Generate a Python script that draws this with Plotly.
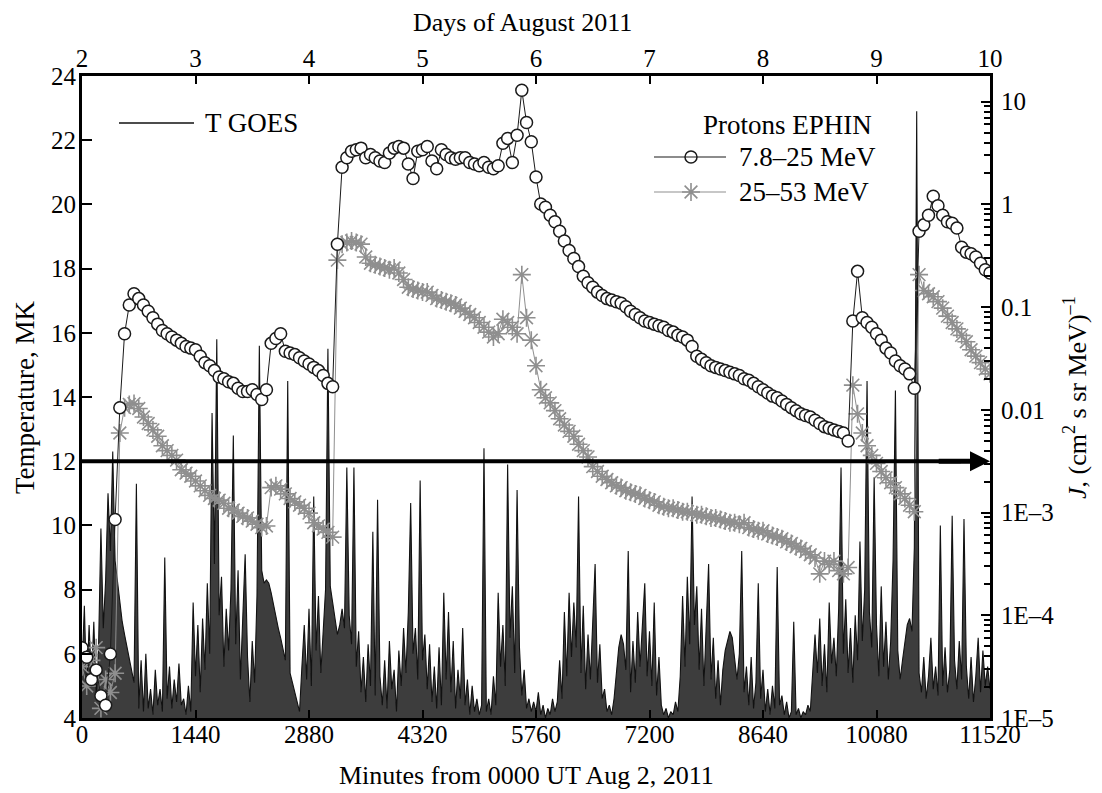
import plotly.graph_objects as go

# ---------------- data ----------------
# GOES temperature, MK, one value every 30 minutes from 0 to 11520 min
goes_step_min = 30
t_goes = [
    5.5, 7.5, 4.8, 6.9, 5.2, 7.0, 4.6, 6.2, 9.9, 6.8,
    8.3, 11.0, 9.2, 12.3, 8.9, 8.3, 7.7, 7.0, 6.6, 6.2,
    5.8, 5.5, 5.1, 11.3, 4.3, 5.8, 4.2, 6.0, 4.3, 4.9,
    4.1, 5.5, 4.4, 4.9, 4.2, 9.0, 4.6, 5.6, 4.3, 5.2,
    4.5, 5.7, 4.4, 4.6, 4.1, 5.0, 4.2, 7.6,
    5.3, 6.9, 4.8, 7.1, 5.5, 8.2, 6.0, 13.5, 8.8, 15.8,
    7.2, 8.4, 5.6, 7.4, 6.1, 8.0, 12.8, 6.3, 8.6, 5.2,
    6.9, 9.1, 5.9, 4.5, 6.4, 5.1, 7.8, 15.6, 8.6, 8.2,
    8.3, 8.2, 7.9, 7.5, 7.1, 6.8, 6.5, 6.1, 5.8, 14.5,
    5.4, 5.1, 4.8, 4.5, 4.2, 5.6, 6.9, 5.2,
    7.4, 5.0, 10.9, 6.1, 7.8, 5.4, 6.7, 8.0, 15.5, 8.1,
    7.6, 7.1, 6.6, 6.9, 7.4, 6.8, 11.8, 7.2, 6.3, 11.8,
    5.6, 6.7, 4.8, 5.9, 4.5, 6.3, 5.0, 9.8, 4.7, 10.8,
    5.3, 4.4, 5.8, 4.3, 6.4, 4.9, 5.5, 4.2, 6.1, 5.0,
    6.8, 5.4, 7.3, 10.7, 6.0, 6.8, 5.2, 11.4,
    5.8, 6.6, 4.9, 6.3, 4.5, 5.6, 4.3, 6.2, 4.4, 7.9,
    5.2, 7.3, 4.8, 6.4, 4.3, 5.5, 4.6, 6.8, 4.4, 5.2,
    4.1, 5.0, 4.2, 4.6, 4.1, 4.4, 12.4, 4.2, 4.6, 4.1,
    5.3, 4.4, 7.9, 5.6, 6.9, 5.0, 11.9, 6.5, 8.1, 5.4,
    11.1, 6.2, 4.7, 5.5, 4.3, 4.6, 4.2, 4.5,
    4.2, 4.8, 4.1, 4.4, 4.0, 4.3, 4.1, 4.6, 4.2, 4.5,
    5.8, 4.6, 7.3, 5.3, 7.9, 5.9, 7.6, 6.2, 10.9, 5.4,
    7.5, 4.9, 6.6, 5.2, 7.2, 8.8, 5.1, 6.3, 4.6, 4.9,
    4.2, 4.4, 4.1, 4.6, 5.4, 6.2, 6.6, 6.3, 5.5, 9.2,
    4.8, 6.4, 5.1, 7.3, 5.6, 6.8, 8.2, 5.3,
    6.7, 5.0, 7.6, 4.7, 5.9, 4.4, 4.1, 4.3, 4.0, 4.2,
    4.1, 4.5, 4.2, 5.3, 7.8, 5.6, 8.4, 6.3, 10.9, 6.9,
    8.1, 5.5, 7.4, 5.0, 6.9, 8.8, 5.2, 6.5, 4.6, 5.8,
    4.4, 5.5, 6.1, 6.4, 6.7, 6.5, 5.9, 5.2, 6.0, 9.2,
    4.8, 5.6, 4.4, 5.9, 4.3, 5.1, 8.2, 4.6,
    5.5, 4.2, 4.9, 4.1, 5.0, 4.3, 8.7, 4.4, 4.7, 4.1,
    4.5, 4.0, 4.2, 7.0, 4.1, 4.3, 4.0, 4.2, 4.1, 4.4,
    4.2, 5.6, 6.6, 5.4, 7.1, 5.0, 6.3, 4.8, 7.6, 5.7,
    6.5, 5.3, 7.4, 11.8, 6.0, 7.7, 5.4, 6.8, 5.1, 7.2,
    5.8, 9.5, 6.4, 8.0, 14.5, 7.3, 6.2, 11.5,
    6.9, 5.3, 8.1, 5.6, 7.0, 5.2, 6.4, 8.9, 14.2, 6.1,
    5.2, 5.8, 6.4, 6.9, 7.1, 6.7, 9.3, 22.9, 5.4, 4.8,
    5.9, 4.6, 5.3, 6.5, 4.9, 5.6, 4.7, 10.0, 5.0, 6.2,
    4.8, 5.5, 10.3, 5.8, 4.9, 6.4, 5.2, 10.2, 5.6, 4.6,
    5.9, 4.5, 5.3, 6.5, 4.8, 6.1, 5.0, 5.6,
    4.9,
]

# EPHIN proton fluxes, (cm^2 s sr MeV)^-1, hourly from 0 to 11520 min
ephin_step_min = 60
flux_7_25 = [
    4.84e-5, 3.91e-5, 2.37e-5, 2.94e-5, 1.65e-5, 1.33e-5, 4.2e-5, 8.55e-4, 0.0105, 0.0551,
    0.105, 0.135, 0.121, 0.105, 0.091, 0.0789, 0.0683, 0.0592, 0.0551, 0.0512,
    0.0477, 0.0444, 0.0413, 0.0399, 0.0385, 0.0333, 0.0288, 0.0269, 0.0241, 0.0209,
    0.0201, 0.0188, 0.0181, 0.0162, 0.0151, 0.0151, 0.0157, 0.0141, 0.0126, 0.0157,
    0.0444, 0.0494, 0.0551, 0.0371, 0.0358, 0.0345, 0.0321, 0.0299, 0.0279, 0.0259,
    0.0241, 0.0216, 0.0181, 0.0168, 0.41, 2.30, 2.85, 3.29, 3.41, 3.53,
    2.85, 3.06, 2.85, 2.65, 2.56, 3.17, 3.53, 3.66, 3.53, 2.47,
    1.79, 3.29, 3.41, 3.66, 2.65, 2.22, 3.41, 3.06, 2.85, 2.75,
    2.85, 2.85, 2.56, 2.47, 2.38, 2.56, 2.30, 2.22, 2.38, 3.94,
    4.39, 2.56, 4.71, 12.9, 6.28, 4.08, 1.85, 1.01, 0.938, 0.783,
    0.679, 0.547, 0.441, 0.356, 0.297, 0.248, 0.200, 0.173, 0.156, 0.140,
    0.130, 0.121, 0.117, 0.113, 0.109, 0.101, 0.091, 0.0847, 0.0789, 0.0734,
    0.0708, 0.0683, 0.0659, 0.0636, 0.0592, 0.0571, 0.0531, 0.0512, 0.0477, 0.0413,
    0.0333, 0.0310, 0.0288, 0.0269, 0.0259, 0.0250, 0.0241, 0.0232, 0.0224, 0.0216,
    0.0201, 0.0194, 0.0181, 0.0168, 0.0157, 0.0146, 0.0136, 0.0131, 0.0122, 0.0113,
    0.0105, 0.00982, 0.00914, 0.00882, 0.00851, 0.00792, 0.00737, 0.00686, 0.00662, 0.00638,
    0.00617, 0.00595, 0.00497, 0.0734, 0.223, 0.0789, 0.0708, 0.0636, 0.0551, 0.0477,
    0.0399, 0.0358, 0.0299, 0.0269, 0.0250, 0.0224, 0.0162, 0.547, 0.632, 0.783,
    1.20, 0.970, 0.783, 0.679, 0.655, 0.588, 0.382, 0.343, 0.331, 0.308,
    0.267, 0.231, 0.215,
]
flux_25_53 = [
    3.16e-5, 2.05e-5, 3.64e-5, 4.84e-5, 1.24e-5, 2.37e-5, 1.77e-5, 2.73e-5, 0.00595, 0.0105,
    0.0113, 0.0115, 0.0103, 0.00851, 0.00737, 0.00638, 0.00553, 0.00447, 0.00401, 0.0036,
    0.00324, 0.00261, 0.00242, 0.00226, 0.00203, 0.00182, 0.00163, 0.00147, 0.00137, 0.00132,
    0.00123, 0.0011, 0.00106, 0.000988, 0.000919, 0.000887, 0.000826, 0.000769, 0.000714, 0.000741,
    0.00175, 0.00182, 0.00169, 0.00152, 0.00137, 0.00127, 0.00118, 0.0011, 0.000988, 0.000796,
    0.000741, 0.00069, 0.000641, 0.000577, 0.287, 0.41, 0.426, 0.441, 0.426, 0.41,
    0.308, 0.267, 0.258, 0.248, 0.24, 0.231, 0.24, 0.215, 0.186, 0.156,
    0.150, 0.145, 0.140, 0.140, 0.130, 0.121, 0.117, 0.113, 0.109, 0.105,
    0.0977, 0.091, 0.0847, 0.0789, 0.0708, 0.0636, 0.0571, 0.0512, 0.0551, 0.0761,
    0.0708, 0.0636, 0.0551, 0.207, 0.0789, 0.0477, 0.0269, 0.0157, 0.0131, 0.0117,
    0.00982, 0.0082, 0.00711, 0.00617, 0.00553, 0.00463, 0.00401, 0.00348, 0.0028, 0.00251,
    0.00226, 0.0021, 0.00195, 0.00182, 0.00175, 0.00163, 0.00158, 0.00152, 0.00147, 0.00137,
    0.00132, 0.00127, 0.00118, 0.00114, 0.0011, 0.0011, 0.00106, 0.00102, 0.00102, 0.000988,
    0.000953, 0.000953, 0.000919, 0.000887, 0.000887, 0.000855, 0.000826, 0.000796, 0.000796, 0.000769,
    0.000796, 0.000714, 0.00069, 0.000665, 0.000665, 0.000619, 0.000597, 0.000577, 0.000556, 0.000518,
    0.000499, 0.000465, 0.000448, 0.000417, 0.000388, 0.000361, 0.000253, 0.000337, 0.000313, 0.000337,
    0.000272, 0.000253, 0.000292, 0.0174, 0.00914, 0.00595, 0.00447, 0.0036, 0.00301, 0.00251,
    0.00218, 0.00195, 0.00175, 0.00152, 0.00137, 0.00118, 0.00102, 0.207, 0.145, 0.135,
    0.126, 0.113, 0.0977, 0.0817, 0.0708, 0.0614, 0.0531, 0.046, 0.0385, 0.0333,
    0.0288, 0.025, 0.0224,
]

minute_ticks = [0, 1440, 2880, 4320, 5760, 7200, 8640, 10080, 11520]
day_ticks = [2, 3, 4, 5, 6, 7, 8, 9, 10]
temp_ticks = [4, 6, 8, 10, 12, 14, 16, 18, 20, 22, 24]
flux_tickvals = [10, 1, 0.1, 0.01, 1e-3, 1e-4, 1e-5]
flux_ticktext = ["10", "1", "0.1", "0.01", "1E–3", "1E–4", "1E–5"]
threshold_T = 12

goes_minutes = [i * goes_step_min for i in range(len(t_goes))]
ephin_minutes = [i * ephin_step_min for i in range(len(flux_7_25))]

# ---------------- styling ----------------
FONT = "Liberation Serif, Times New Roman, serif"
TICK = 25
TITLE = 26
GRAY = "#8f8f8f"
minor_vals = [m * 10 ** e for e in range(-5, 2) for m in range(2, 10)]

# The page body adds an 8 px offset, so the figure is 8 px smaller on each side.
FIG_W, FIG_H = 1094, 785
PLOT_L, PLOT_R, PLOT_T, PLOT_B = 82, 990, 76, 718      # wanted page pixels
OFF = 8

fig = go.Figure()

fig.add_trace(go.Scatter(
    x=goes_minutes, y=t_goes, mode="lines", xaxis="x", yaxis="y",
    line=dict(color="#111111", width=1.1), fill="tozeroy",
    fillcolor="rgba(18,18,18,0.82)", showlegend=False, hoverinfo="skip"))

fig.add_trace(go.Scatter(
    x=ephin_minutes, y=flux_25_53, mode="lines+markers", xaxis="x", yaxis="y2",
    line=dict(color=GRAY, width=1),
    marker=dict(symbol="asterisk-open", size=15, color=GRAY, line=dict(color=GRAY, width=1.6)),
    showlegend=False))

fig.add_trace(go.Scatter(
    x=ephin_minutes, y=flux_7_25, mode="lines+markers", xaxis="x", yaxis="y2",
    line=dict(color="#1a1a1a", width=1),
    marker=dict(symbol="circle", size=12, color="white", line=dict(color="#1a1a1a", width=1.5)),
    showlegend=False))

# helper trace so the top (days) axis is drawn
fig.add_trace(go.Scatter(x=[day_ticks[0], day_ticks[-1]], y=[4, 4], xaxis="x2", yaxis="y",
                         mode="lines", line=dict(width=0), opacity=0, showlegend=False,
                         hoverinfo="skip"))


def px_x(p):
    return (p - PLOT_L) / float(PLOT_R - PLOT_L)


def px_y(p):
    return (PLOT_B - p) / float(PLOT_B - PLOT_T)


# legend sample markers (positions as fractions of the plot area)
fig.add_trace(go.Scatter(
    x=[px_x(691)], y=[px_y(157)], xaxis="x3", yaxis="y3", mode="markers",
    marker=dict(symbol="circle", size=12, color="white", line=dict(color="#1a1a1a", width=1.5)),
    showlegend=False, hoverinfo="skip"))
fig.add_trace(go.Scatter(
    x=[px_x(691)], y=[px_y(192)], xaxis="x3", yaxis="y3", mode="markers",
    marker=dict(symbol="asterisk-open", size=15, color=GRAY, line=dict(color=GRAY, width=1.6)),
    showlegend=False, hoverinfo="skip"))

axis_common = dict(showline=True, linecolor="black", linewidth=3, showgrid=False,
                   zeroline=False, ticks="inside", tickcolor="black", tickwidth=2,
                   tickfont=dict(family=FONT, size=TICK, color="black"))

fig.update_layout(
    width=FIG_W, height=FIG_H,
    margin=dict(l=PLOT_L - OFF, r=FIG_W - (PLOT_R - OFF), t=PLOT_T - OFF,
                b=FIG_H - (PLOT_B - OFF), autoexpand=False),
    paper_bgcolor="white", plot_bgcolor="white",
    font=dict(family=FONT, color="black"),
    xaxis=dict(range=[0, 11520], tickmode="array", tickvals=minute_ticks,
               ticktext=[str(v) for v in minute_ticks], ticklen=8,
               ticklabelstandoff=-8, **axis_common),
    xaxis2=dict(range=[2, 10], overlaying="x", side="top", anchor="y",
                tickmode="array", tickvals=day_ticks, ticklen=8,
                ticklabelstandoff=-4, **axis_common),
    yaxis=dict(range=[4, 24], tickmode="array", tickvals=temp_ticks, ticklen=10,
               ticklabelstandoff=-2, **axis_common),
    yaxis2=dict(type="log", range=[-5, 1.25], overlaying="y", side="right", anchor="x",
                tickmode="array", tickvals=flux_tickvals, ticktext=flux_ticktext,
                ticklen=9, ticklabelstandoff=3,
                minor=dict(tickmode="array", tickvals=minor_vals, ticks="inside",
                           ticklen=6, tickwidth=1.5, tickcolor="black"),
                **axis_common),
    xaxis3=dict(range=[0, 1], overlaying="x", visible=False, fixedrange=True),
    yaxis3=dict(range=[0, 1], overlaying="y", visible=False, fixedrange=True),
    showlegend=False,
)

shapes = [
    # threshold arrow line at T = 12
    dict(type="line", xref="x", yref="y", x0=0, x1=11150, y0=threshold_T, y1=threshold_T,
         line=dict(color="black", width=4), layer="above"),
    # legend lines
    dict(type="line", xref="paper", yref="paper", x0=px_x(119), x1=px_x(194),
         y0=px_y(123), y1=px_y(123), line=dict(color="#111111", width=1.3)),
    dict(type="line", xref="paper", yref="paper", x0=px_x(654), x1=px_x(726),
         y0=px_y(157), y1=px_y(157), line=dict(color="#1a1a1a", width=1.2)),
    dict(type="line", xref="paper", yref="paper", x0=px_x(654), x1=px_x(726),
         y0=px_y(192), y1=px_y(192), line=dict(color=GRAY, width=1.2)),
]
fig.update_layout(shapes=shapes)

ann = [
    dict(x=11520, y=threshold_T, ax=10850, ay=threshold_T, xref="x", yref="y",
         axref="x", ayref="y", showarrow=True, arrowhead=2, arrowsize=0.8,
         arrowwidth=5, arrowcolor="black", text=""),
    dict(x=px_x(522), y=px_y(22), xref="paper", yref="paper", text="Days of August 2011",
         showarrow=False, font=dict(size=TITLE, family=FONT), xanchor="center", yanchor="middle"),
    dict(x=px_x(526), y=px_y(776), xref="paper", yref="paper",
         text="Minutes from 0000 UT Aug 2, 2011",
         showarrow=False, font=dict(size=TITLE, family=FONT), xanchor="center", yanchor="middle"),
    dict(x=px_x(25), y=px_y(397), xref="paper", yref="paper", text="Temperature, MK",
         textangle=-90, showarrow=False, font=dict(size=27, family=FONT),
         xanchor="center", yanchor="middle"),
    dict(x=px_x(1076), y=px_y(398), xref="paper", yref="paper",
         text="<i>J</i>, (cm<sup>2</sup> s sr MeV)<sup>–1</sup>",
         textangle=-90, showarrow=False, font=dict(size=26, family=FONT),
         xanchor="center", yanchor="middle"),
    dict(x=px_x(203), y=px_y(123), xref="paper", yref="paper", text="T GOES",
         showarrow=False, font=dict(size=27, family=FONT), xanchor="left", yanchor="middle"),
    dict(x=px_x(874), y=px_y(125), xref="paper", yref="paper", text="Protons EPHIN",
         showarrow=False, font=dict(size=27, family=FONT), xanchor="right", yanchor="middle"),
    dict(x=px_x(737), y=px_y(157), xref="paper", yref="paper", text="7.8–25 MeV",
         showarrow=False, font=dict(size=27, family=FONT), xanchor="left", yanchor="middle"),
    dict(x=px_x(737), y=px_y(192), xref="paper", yref="paper", text="25–53 MeV",
         showarrow=False, font=dict(size=27, family=FONT), xanchor="left", yanchor="middle"),
]
fig.update_layout(annotations=ann)

fig.write_html("out.html")
